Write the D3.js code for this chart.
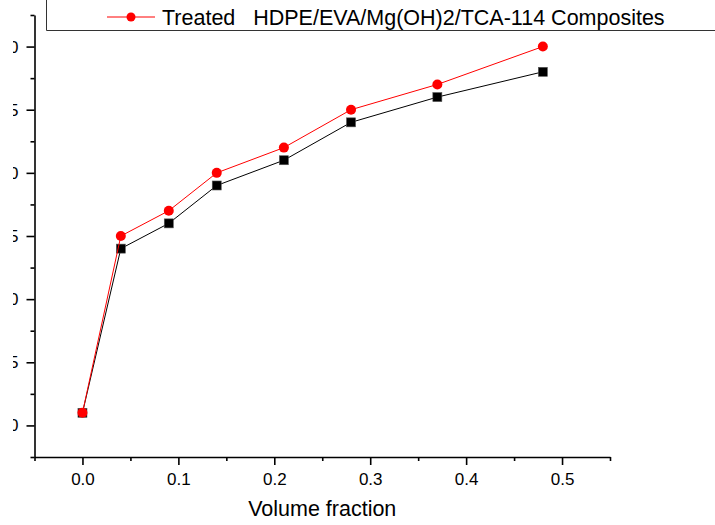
<!DOCTYPE html>
<html>
<head>
<meta charset="utf-8">
<script src="https://cdn.jsdelivr.net/npm/d3@7"></script>
<style>
  body { margin: 0; background: #fff; }
  svg { display: block; font-family: "Liberation Sans", Arial, sans-serif; }
</style>
</head>
<body>
<div id="chart"></div>
<script>
// data
var volumeFraction = [0, 0.04, 0.09, 0.14, 0.21, 0.28, 0.37, 0.48];
var untreated = [21, 34, 36, 39, 41, 44, 46, 48];
var treated = [21, 35, 37, 40, 42, 45, 47, 50];
var yTicks = [20, 25, 30, 35, 40, 45, 50];
var yMinor = [17.5, 22.5, 27.5, 32.5, 37.5, 42.5, 47.5, 52.5];
var xTicks = [0, 0.1, 0.2, 0.3, 0.4, 0.5];
var xMinor = [-0.05, 0.05, 0.15, 0.25, 0.35, 0.45, 0.55];
var legendLabel = "Treated   HDPE/EVA/Mg(OH)2/TCA-114 Composites";
var xTitle = "Volume fraction";

var W = 715, H = 525;

var svg = d3.select("#chart")
  .append("svg")
  .attr("width", W)
  .attr("height", H);

var x = d3.scaleLinear().domain([-0.05, 0.55]).range([34.5, 610]);
var y = d3.scaleLinear().domain([17.5, 52.5]).range([457, 15]);

// the original picture is cut on the left, only the last digit of the y labels shows
svg.append("defs").append("clipPath")
  .attr("id", "cut")
  .append("rect")
  .attr("x", 13).attr("y", 0)
  .attr("width", W).attr("height", H);

// y axis
var yAxis = svg.append("g")
  .attr("clip-path", "url(#cut)")
  .append("g")
  .attr("transform", "translate(" + x.range()[0] + ",0)");
yAxis.call(d3.axisLeft(y).tickValues(yTicks).tickSize(8).tickSizeOuter(0).tickPadding(8)
  .tickFormat(d3.format("d")));
yAxis.append("g")
  .call(d3.axisLeft(y).tickValues(yMinor).tickSize(4).tickSizeOuter(0).tickFormat(""))
  .select(".domain").remove();

// x axis
var xAxis = svg.append("g")
  .attr("transform", "translate(0," + y.range()[0] + ")");
xAxis.call(d3.axisBottom(x).tickValues(xTicks).tickSize(8).tickSizeOuter(0).tickPadding(8)
  .tickFormat(d3.format(".1f")));
xAxis.append("g")
  .call(d3.axisBottom(x).tickValues(xMinor).tickSize(4).tickSizeOuter(0).tickFormat(""))
  .select(".domain").remove();

svg.selectAll(".domain, .tick line")
  .attr("stroke", "#000")
  .attr("stroke-width", 1.6);
svg.selectAll(".tick text")
  .attr("font-size", 17)
  .attr("font-family", "Liberation Sans, Arial, sans-serif")
  .attr("fill", "#000");

svg.append("text")
  .attr("x", (x.range()[0] + x.range()[1]) / 2)
  .attr("y", 516)
  .attr("text-anchor", "middle")
  .attr("font-size", 21.5)
  .text(xTitle);

// lines
var line = d3.line()
  .x(function(d, i) { return x(volumeFraction[i]); })
  .y(function(d) { return y(d); });

svg.append("path")
  .datum(untreated)
  .attr("d", line)
  .attr("fill", "none")
  .attr("stroke", "#000")
  .attr("stroke-width", 1);

svg.selectAll(".sq")
  .data(untreated)
  .enter()
  .append("rect")
  .attr("class", "sq")
  .attr("x", function(d, i) { return x(volumeFraction[i]) - 4.5; })
  .attr("y", function(d) { return y(d) - 4.5; })
  .attr("width", 9)
  .attr("height", 9)
  .attr("fill", "#000")
  .attr("stroke", "#555")
  .attr("stroke-width", 0.6);

svg.append("path")
  .datum(treated)
  .attr("d", line)
  .attr("fill", "none")
  .attr("stroke", "#ff0000")
  .attr("stroke-width", 1);

svg.selectAll(".dot")
  .data(treated)
  .enter()
  .append("circle")
  .attr("class", "dot")
  .attr("cx", function(d, i) { return x(volumeFraction[i]); })
  .attr("cy", function(d) { return y(d); })
  .attr("r", 5)
  .attr("fill", "#ff0000");

// legend box, cut off at the top of the picture
svg.append("path")
  .attr("d", "M46.5,0V30.5H" + W)
  .attr("fill", "none")
  .attr("stroke", "#333")
  .attr("stroke-width", 1);

svg.append("line")
  .attr("x1", 107).attr("x2", 155)
  .attr("y1", 17).attr("y2", 17)
  .attr("stroke", "#ff0000")
  .attr("stroke-width", 1);
svg.append("circle")
  .attr("cx", 131).attr("cy", 17)
  .attr("r", 4.5)
  .attr("fill", "#ff0000");
svg.append("text")
  .attr("x", 162)
  .attr("y", 25)
  .attr("font-size", 21.5)
  .style("white-space", "pre")
  .text(legendLabel);
</script>
</body>
</html>
